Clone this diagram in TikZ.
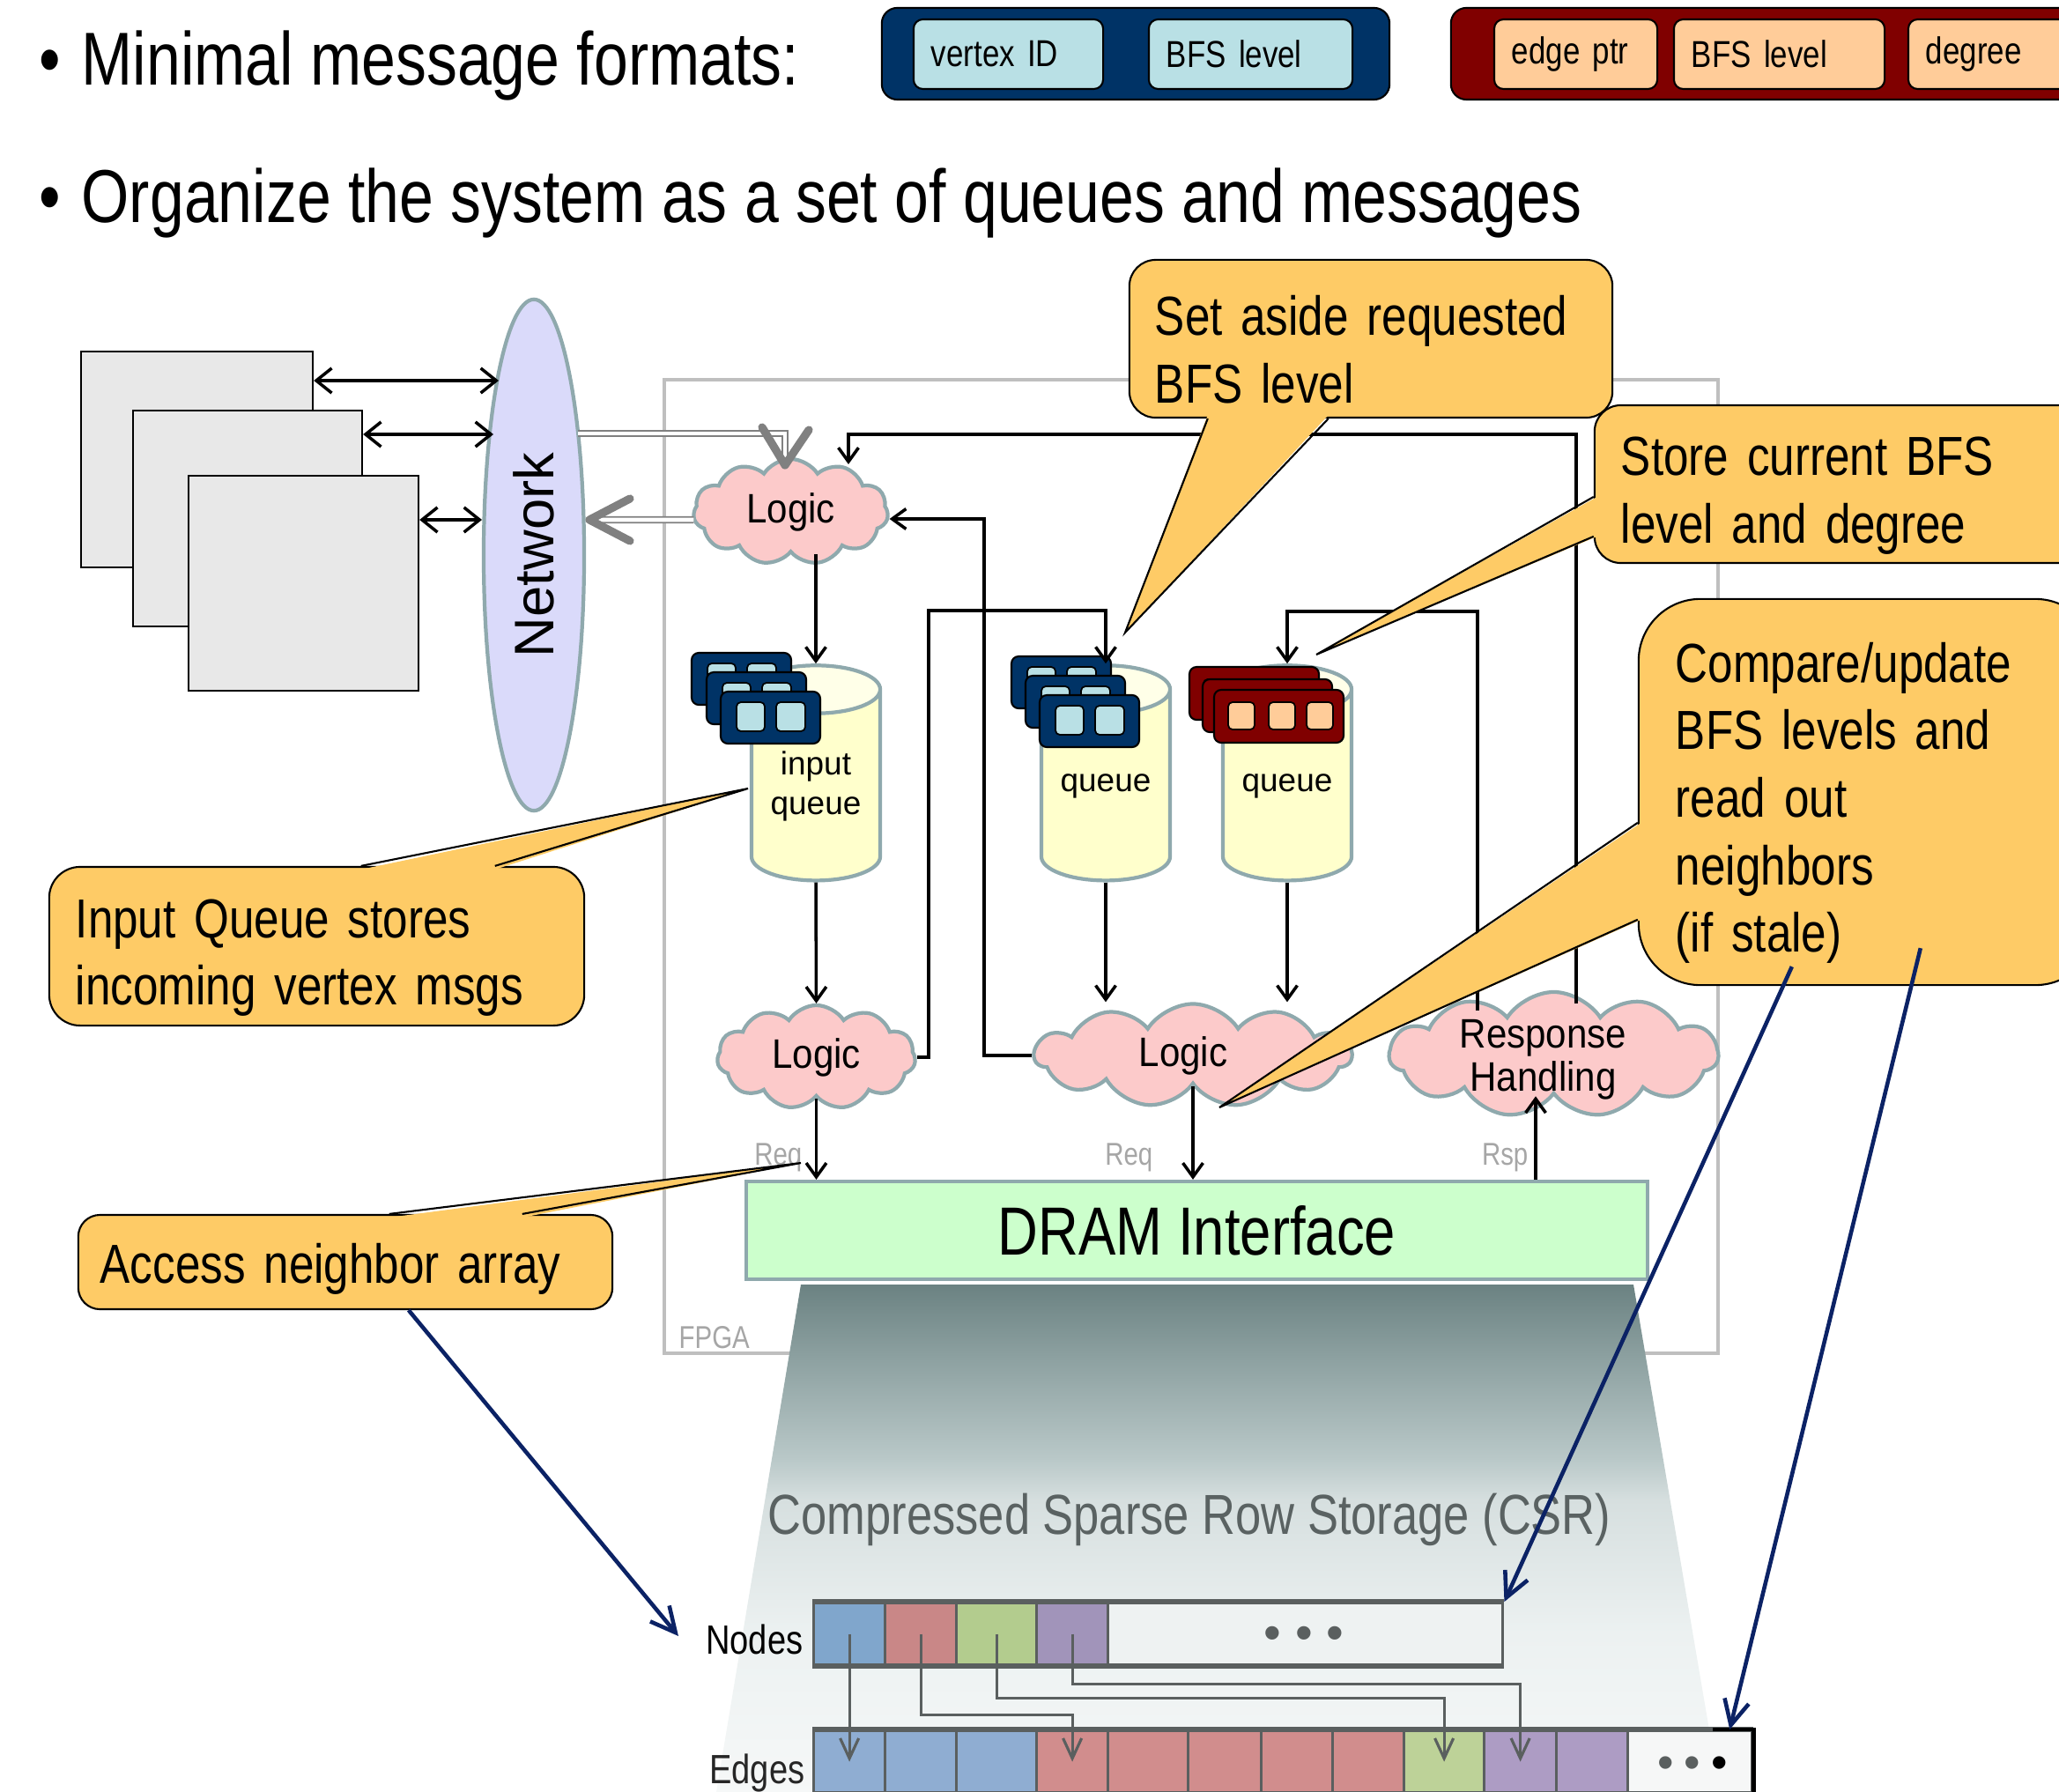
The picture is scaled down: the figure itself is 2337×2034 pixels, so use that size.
\documentclass[tikz,border=0pt]{standalone}
\usepackage{fontspec}
\setmainfont{Liberation Sans}
\newfontfamily\narrowf[FakeStretch=0.82]{Liberation Sans}
\newfontfamily\midf[FakeStretch=0.9]{Liberation Sans}
\newfontfamily\plainf{Liberation Sans}
\usetikzlibrary{shapes.geometric,shapes.symbols,arrows.meta,calc}

\definecolor{navyfill}{HTML}{003366}
\definecolor{lblue}{HTML}{B9E0E5}
\definecolor{dredfill}{HTML}{800000}
\definecolor{peachfill}{HTML}{FFCC99}
\definecolor{boxgray}{HTML}{E8E8E8}
\definecolor{lavfill}{HTML}{DADAFA}
\definecolor{tealline}{HTML}{8FA9AD}
\definecolor{pinkfill}{HTML}{FCCACA}
\definecolor{cylbody}{HTML}{FFFFCC}
\definecolor{cyltop}{HTML}{FFFFE8}
\definecolor{mintfill}{HTML}{CCFFCC}
\definecolor{fpgaline}{HTML}{BFBFBF}
\definecolor{callfill}{HTML}{FECB66}
\definecolor{navyarrow}{HTML}{0B2265}
\definecolor{lblgray}{HTML}{A6A6A6}
\definecolor{arrgray}{HTML}{5A5F5F}
\definecolor{netgray}{HTML}{808080}
\definecolor{csrtext}{HTML}{5A6262}
\definecolor{s0}{HTML}{F6F8F8}
\definecolor{s1}{HTML}{ECF1F1}
\definecolor{s2}{HTML}{D6DFDF}
\definecolor{s3}{HTML}{B9C8C8}
\definecolor{s4}{HTML}{8CA0A0}
\definecolor{s5}{HTML}{6B8282}
\definecolor{nblue}{HTML}{80A6CC}
\definecolor{nred}{HTML}{C98787}
\definecolor{ngreen}{HTML}{B3CC8E}
\definecolor{npurple}{HTML}{A194BA}
\definecolor{nrest}{HTML}{EEF2F2}
\definecolor{eblue}{HTML}{8FADD2}
\definecolor{ered}{HTML}{D18D8D}
\definecolor{egreen}{HTML}{BDD298}
\definecolor{epurple}{HTML}{AD9CC4}
\definecolor{erest}{HTML}{F6F7F7}

\pgfdeclareverticalshading{csrshade}{100bp}{color(0bp)=(s0); color(25bp)=(s0); color(41bp)=(s1); color(54bp)=(s2); color(58bp)=(s3); color(68bp)=(s4); color(75bp)=(s5); color(100bp)=(s5)}

\newcommand\calstrut{\rule{0pt}{0.7cm}}

\tikzset{
  bullettext/.style={anchor=base west, inner sep=0, font=\narrowf\fontsize{24.2}{29}\selectfont},
  fmtouter/.style={draw=black, line width=0.6pt, rounded corners=5pt, inner sep=0},
  fmtinner/.style={draw=black, line width=0.6pt, fill=lblue, rounded corners=3pt, minimum height=0.79cm, inner xsep=0.2cm, inner ysep=0, align=left, font=\narrowf\fontsize{12.1}{14}\selectfont},
  pcbox/.style={draw=black, line width=0.6pt, fill=boxgray, inner sep=0},
  dblarrow/.style={line width=1pt, {Straight Barb[length=5pt,width=8pt]}-{Straight Barb[length=5pt,width=8pt]}},
  netnode/.style={ellipse, draw=tealline, line width=1.2pt, fill=lavfill, inner sep=0, font=\plainf\fontsize{18}{20}\selectfont},
  netdbl/.style={draw=netgray, line width=0.55pt, double=white, double distance=1.3pt},
  chev/.style={draw=netgray, line width=2.6pt, line cap=round, line join=round},
  cloudnode/.style={cloud, cloud puffs=11, cloud puff arc=115, cloud ignores aspect, draw=tealline, line width=1.2pt, fill=pinkfill, inner sep=0, align=center, font=\midf\fontsize{13.3}{14}\selectfont},
  cylnode/.style={cylinder, shape border rotate=90, aspect=0.53, draw=tealline, line width=1.2pt, cylinder uses custom fill, cylinder body fill=cylbody, cylinder end fill=cyltop, minimum width=1.46cm, minimum height=2.44cm, inner sep=0, align=center, font=\plainf\fontsize{10.5}{12.8}\selectfont},
  msgblue/.style={draw=black, line width=0.6pt, fill=navyfill, rounded corners=2.3pt},
  msgred/.style={draw=black, line width=0.6pt, fill=dredfill, rounded corners=2.3pt},
  msgbin/.style={draw=black, line width=0.5pt, fill=lblue, rounded corners=1.4pt},
  msgrin/.style={draw=black, line width=0.5pt, fill=peachfill, rounded corners=1.4pt},
  dramnode/.style={draw=tealline, line width=1.2pt, fill=mintfill, inner sep=0, font=\narrowf\fontsize{22}{26}\selectfont},
  conn/.style={draw=black, line width=1pt, -{Straight Barb[length=4.5pt,width=6.5pt]}},
  smalllbl/.style={text=lblgray, inner sep=0, font=\narrowf\fontsize{10.2}{12}\selectfont},
  calloutbox/.style={draw=black, line width=0.6pt, fill=callfill, align=left, inner ysep=0, font=\narrowf\fontsize{17.75}{21.8}\selectfont},
  calltail/.style={draw=black, line width=0.6pt, line join=miter},
  navyconn/.style={draw=navyarrow, line width=1.3pt, -{Straight Barb[length=8pt,width=8pt]}},
  ncell/.style={draw=arrgray, line width=0.9pt, minimum height=0.7cm, inner sep=0, anchor=north west},
  ptr/.style={draw=arrgray, line width=0.9pt, -{Straight Barb[length=6.5pt,width=6pt]}},
}

\newcommand\bluemsg[2]{%
  \draw[msgblue] (#1,#2) rectangle (#1+113,#2+59);
  \draw[msgbin] (#1+18,#2+12) rectangle (#1+50,#2+45);
  \draw[msgbin] (#1+63,#2+12) rectangle (#1+96,#2+45);}
\newcommand\redmsg[2]{%
  \draw[msgred] (#1,#2) rectangle (#1+147,#2+60);
  \draw[msgrin] (#1+16,#2+14) rectangle (#1+46,#2+45);
  \draw[msgrin] (#1+62,#2+14) rectangle (#1+92,#2+45);
  \draw[msgrin] (#1+105,#2+14) rectangle (#1+135,#2+45);}

\begin{document}
\begin{tikzpicture}[x=0.01cm,y=-0.01cm]
\useasboundingbox (0,0) rectangle (2337,2034);
\clip (0,0) rectangle (2337,2034);

% FPGA frame
\node[draw=fpgaline, line width=1.2pt, minimum width=11.96cm, minimum height=11.05cm, inner sep=0] (fpga) at (1352,983.5) {};
\node[smalllbl, anchor=base west] (fpgalbl) at (770,1530) {FPGA};

% CSR projection
\shade[shading=csrshade] (909,1458) -- (1854,1458) -- (1953,2040) -- (812,2040) -- cycle;

% top bullets
\node[bullettext] (dot1) at (44,97) {•};
\node[bullettext] (t1) at (92,97) {Minimal message formats:};
\node[bullettext] (dot2) at (44,253) {•};
\node[bullettext] (t2) at (92,253) {Organize the system as a set of queues and messages};

% message formats
\node[fmtouter, fill=navyfill, minimum width=5.76cm, minimum height=1.04cm] (fmtA) at (1289,61) {};
\node[fmtinner, text width=1.75cm] (fmtv) at (1144.5,61.5) {vertex ID};
\node[fmtinner, text width=1.91cm] (fmtb1) at (1419.5,61.5) {BFS level};
\node[fmtouter, fill=dredfill, minimum width=7.53cm, minimum height=1.04cm] (fmtB) at (2023.5,61) {};
\node[fmtinner, fill=peachfill, text width=1.45cm] (fmte) at (1788.5,61.5) {edge ptr};
\node[fmtinner, fill=peachfill, text width=1.99cm] (fmtb2) at (2019.5,61.5) {BFS level};
\node[fmtinner, fill=peachfill, text width=1.54cm] (fmtd) at (2263,61.5) {degree};

% nodes on network
\node[pcbox, minimum width=2.63cm, minimum height=2.45cm] (pc1) at (223.5,521.5) {};
\node[pcbox, minimum width=2.60cm, minimum height=2.45cm] (pc2) at (281,588.5) {};
\node[pcbox, minimum width=2.61cm, minimum height=2.44cm] (pc3) at (344.5,662) {};
\node[netnode, rotate=90, minimum width=5.8cm, minimum height=1.14cm] (net) at (606,630) {Network};
\coordinate (nw1) at (566,432);
\coordinate (nw2) at (560,493);
\coordinate (nw3) at (547,590);
\coordinate (ne1) at (656,492);
\coordinate (ne2) at (669,590);
\draw[dblarrow] (pc1.east |- nw1) -- (nw1);
\draw[dblarrow] (pc2.east |- nw2) -- (nw2);
\draw[dblarrow] (pc3.east |- nw3) -- (nw3);

% queues
\node[cylnode] (q1) at (926,892) {input\\queue};
\node[cylnode] (q2) at (1255,892) {queue};
\node[cylnode] (q3) at (1461,892) {queue};
\bluemsg{785}{741} \bluemsg{802}{763} \bluemsg{818}{785}
\bluemsg{1148}{745} \bluemsg{1164}{767} \bluemsg{1180}{789}
\redmsg{1350}{757} \redmsg{1365}{771} \redmsg{1378}{783}

% logic clouds
\node[cloudnode, minimum width=2.21cm, minimum height=1.2cm] (logic0) at (897.5,581) {Logic};
\node[cloudnode, minimum width=2.25cm, minimum height=1.18cm] (logic1) at (926.5,1200) {Logic};
\node[cloudnode, minimum width=3.59cm, minimum height=1.17cm] (logic2) at (1354,1198) {Logic\hspace{0.22cm}};
\node[cloudnode, minimum width=3.73cm, minimum height=1.42cm] (resp) at (1763.5,1197) {\smash{\raisebox{-0.2cm}{\begin{tabular}{@{}c@{}}Response\\Handling\end{tabular}}}\hspace{0.24cm}};
\node[dramnode, minimum width=10.23cm, minimum height=1.11cm] (dram) at (1358.5,1396.5) {DRAM Interface};

% network <-> logic (gray double)
\coordinate (l0tip) at (891,528);
\draw[netdbl] (ne1) -| ($(l0tip)+(0,-8)$);
\draw[chev] ($(l0tip)+(-26,-43)$) -- (l0tip) -- ($(l0tip)+(27,-40)$);
\draw[netdbl] ($(logic0.west)+(2,9)$) -- ($(ne2)+(8,0)$);
\draw[chev] ($(ne2)+(46,-24)$) -- (ne2) -- ($(ne2)+(46,24)$);

% black connectors
\coordinate (c1) at (1054,693);
\coordinate (c2) at (1117,589);
\coordinate (r1) at (1677,1147);
\coordinate (c3) at (1677,694);
\coordinate (r2) at (1789,1139);
\coordinate (c4) at (963,493);
\coordinate (l0in) at (963,527);
\coordinate (rspx) at (1743,1300);
\draw[conn] (q1.north |- logic0.south) -- (q1.north);
\draw[conn] (q1.south) -- (logic1.north);
\draw[conn] (q2.south) -- (q2.south |- logic2.north);
\draw[conn] (q3.south) -- (q3.south |- logic2.north);
\draw[conn] (logic1.south) -- (logic1.south |- dram.north);
\draw[conn] (logic2.south) -- (logic2.south |- dram.north);
\draw[conn] (rspx |- dram.north) -- (rspx |- resp.south);
\draw[conn] (logic1.east) -| (c1) -| (q2.north);
\draw[conn] (logic2.west) -| (c2) -- (c2 -| logic0.east);
\draw[conn] (r1) -- (c3) -| (q3.north);
\draw[conn] (r2) |- (c4) -- (l0in);

\node[smalllbl, anchor=base east] (req1) at (911,1322) {Req};
\node[smalllbl, anchor=base east] (req2) at (1309,1322) {Req};
\node[smalllbl, anchor=base east] (rsp) at (1735,1322) {Rsp};

% CSR storage
\node[anchor=base west, inner sep=0, text=csrtext, font=\narrowf\fontsize{18.2}{22}\selectfont] (csrt) at (871,1741) {Compressed Sparse Row Storage (CSR)};
\node[anchor=base east, inner sep=0, font=\narrowf\fontsize{13.2}{15}\selectfont] (nodeslbl) at (912,1877) {Nodes};
\node[anchor=base east, inner sep=0, text=black!85, font=\narrowf\fontsize{13.2}{15}\selectfont] (edgeslbl) at (914,2024) {Edges};

\node[ncell, fill=nblue, minimum width=0.81cm] (n1) at (922,1818) {};
\node[ncell, fill=nred, minimum width=0.81cm] (n2) at (1003,1818) {};
\node[ncell, fill=ngreen, minimum width=0.91cm] (n3) at (1084,1818) {};
\node[ncell, fill=npurple, minimum width=0.81cm] (n4) at (1175,1818) {};
\node[ncell, fill=nrest, minimum width=4.48cm] (n5) at (1256,1818) {};

\node[ncell, fill=eblue, minimum width=0.81cm] (e1) at (922,1963) {};
\node[ncell, fill=eblue, minimum width=0.81cm] (e2) at (1003,1963) {};
\node[ncell, fill=eblue, minimum width=0.91cm] (e3) at (1084,1963) {};
\node[ncell, fill=ered, minimum width=0.81cm] (e4) at (1175,1963) {};
\node[ncell, fill=ered, minimum width=0.91cm] (e5) at (1256,1963) {};
\node[ncell, fill=ered, minimum width=0.83cm] (e6) at (1347,1963) {};
\node[ncell, fill=ered, minimum width=0.81cm] (e7) at (1430,1963) {};
\node[ncell, fill=ered, minimum width=0.81cm] (e8) at (1511,1963) {};
\node[ncell, fill=egreen, minimum width=0.91cm] (e9) at (1592,1963) {};
\node[ncell, fill=epurple, minimum width=0.82cm] (e10) at (1683,1963) {};
\node[ncell, fill=epurple, minimum width=0.81cm] (e11) at (1765,1963) {};
\node[ncell, fill=erest, minimum width=1.41cm] (e12) at (1846,1963) {};

\draw[arrgray, line width=1.5pt] (n1.north west) -- (n5.north east);
\draw[arrgray, line width=1.5pt] (n1.south west) -- (n5.south east);
\draw[arrgray, line width=1.5pt] (e1.north west) -- (e12.north east);
\draw[black, line width=1.4pt] ($(e12.north east)+(-46,0)$) -- (e12.north east) -- ($(e12.south east)+(0,10)$);

\node[anchor=base, inner sep=0, text=arrgray, font=\plainf\fontsize{16}{16}\selectfont] (ndots) at (1480,1872) {•\kern0.16cm•\kern0.16cm•};
\node[anchor=base, inner sep=0, text=arrgray, font=\plainf\fontsize{15}{15}\selectfont] (edots) at (1921,2018) {•\kern0.12cm•\kern0.12cm{\color{black}•}};

\draw[ptr] (n1.center) -- (e1.center);
\draw[ptr] (n2.center) -- ++(0,92) -| (e4.center);
\draw[ptr] (n3.center) -- ++(0,73) -| (e9.center);
\draw[ptr] (n4.center) -- ++(0,57) -| (e10.center);

% callouts
\node[calloutbox, rounded corners=8.5pt, minimum height=1.79cm, inner xsep=0.29cm, text width=4.9cm] (sa) at (1556,384.5) {\calstrut Set aside requested\\BFS level};
\coordinate (saTip) at (1277,718);
\fill[callfill] ($(sa.south west)+(90,-4)$) -- (saTip) -- ($(sa.south west)+(227,-4)$) -- cycle;
\draw[calltail] ($(sa.south west)+(90,0)$) -- (saTip) -- ($(sa.south west)+(227,0)$);

\node[calloutbox, rounded corners=8.5pt, minimum height=1.79cm, inner xsep=0.3cm, text width=5.1cm] (st) at (2095,549.5) {\calstrut Store current BFS\\level and degree};
\coordinate (stTip) at (1494,743);
\fill[callfill] ($(st.north west)+(4,105)$) -- (stTip) -- ($(st.north west)+(4,150)$) -- cycle;
\draw[calltail] ($(st.north west)+(0,105)$) -- (stTip) -- ($(st.north west)+(0,150)$);

\node[calloutbox, rounded corners=0.7cm, minimum height=4.38cm, inner xsep=0.42cm, text width=4.36cm] (cmp) at (2120,899) {\calstrut Compare/update\\BFS levels and\\read out\\neighbors\\(if stale)};
\coordinate (cmpTip) at (1384,1257);
\fill[callfill] ($(cmp.north west)+(4,255)$) -- (cmpTip) -- ($(cmp.north west)+(4,365)$) -- cycle;
\draw[calltail] ($(cmp.north west)+(0,255)$) -- (cmpTip) -- ($(cmp.north west)+(0,365)$);

\node[calloutbox, rounded corners=10pt, minimum height=1.8cm, inner xsep=0.3cm, text width=5.47cm] (iq) at (359.5,1074) {\calstrut Input Queue stores\\incoming vertex msgs};
\coordinate (iqTip) at (849,895);
\fill[callfill] ($(iq.north west)+(355,4)$) -- (iqTip) -- ($(iq.north west)+(507,4)$) -- cycle;
\draw[calltail] ($(iq.north west)+(355,0)$) -- (iqTip) -- ($(iq.north west)+(507,0)$);

\node[calloutbox, rounded corners=7pt, minimum height=1.07cm, inner xsep=0.25cm, text width=5.56cm] (acc) at (392,1432.5) {\rule{0pt}{0.6cm}Access neighbor array};
\coordinate (accTip) at (909,1320);
\fill[callfill] ($(acc.north west)+(354,4)$) -- (accTip) -- ($(acc.north west)+(505,4)$) -- cycle;
\draw[calltail] ($(acc.north west)+(354,0)$) -- (accTip) -- ($(acc.north west)+(505,0)$);

% navy pointers
\coordinate (nodesIn) at (770,1857);
\draw[navyconn] ($(acc.south west)+(376,0)$) -- (nodesIn);
\draw[navyconn] ($(cmp.south west)+(175,-22)$) -- (n5.north east);
\draw[navyconn] ($(cmp.south west)+(321,-43)$) -- ($(e12.north east)+(-27,0)$);
\end{tikzpicture}
\end{document}
